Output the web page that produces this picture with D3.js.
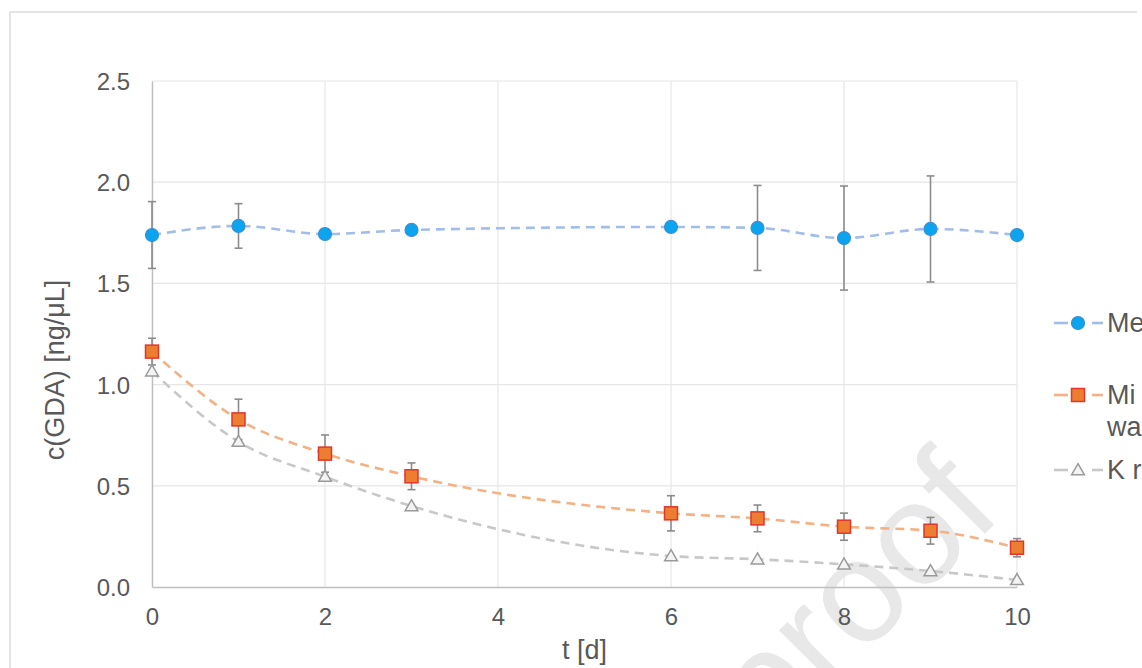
<!DOCTYPE html>
<html>
<head>
<meta charset="utf-8">
<script src="https://cdn.jsdelivr.net/npm/d3@7/dist/d3.min.js"></script>
<style>
  html, body { margin: 0; padding: 0; background: #fff; overflow: hidden; }
  svg { display: block; font-family: "Liberation Sans", Arial, Helvetica, sans-serif; }
</style>
</head>
<body>
<svg id="chart" width="1142" height="668"></svg>
<script>
// ---- data ----
const days = [0, 1, 2, 3, 6, 7, 8, 9, 10];
const medium = [1.739, 1.784, 1.744, 1.764, 1.779, 1.774, 1.724, 1.769, 1.739];
const mediumErr = [0.165, 0.11, 0, 0, 0, 0.21, 0.257, 0.262, 0];
const water = [1.163, 0.828, 0.659, 0.547, 0.364, 0.339, 0.298, 0.278, 0.194];
const waterErr = [0.066, 0.10, 0.092, 0.066, 0.087, 0.066, 0.067, 0.066, 0.045];
const kMedium = [1.066, 0.718, 0.545, 0.40, 0.153, 0.137, 0.112, 0.079, 0.035];
const xTicks = [0, 2, 4, 6, 8, 10];
const yTicks = [0, 0.5, 1.0, 1.5, 2.0, 2.5];
const legendLabels = [["Me"], ["Mi", "wa"], ["K r"]];
const xTitle = "t [d]";
const yTitle = "c(GDA) [ng/μL]";
const watermark = "proof";

const svg = d3.select("#chart");
const W = 1142, H = 668;
svg.append("rect").attr("width", W).attr("height", H).attr("fill", "#fff");

// outer frame (top & left visible)
svg.append("path").attr("d", "M10,668 L10,12 L1137,12")
  .attr("fill", "none").attr("stroke", "#dcdcdc").attr("stroke-width", 1.5);

const x = d3.scaleLinear().domain([0, 10]).range([152, 1017]);
const y = d3.scaleLinear().domain([0, 2.5]).range([587, 81]);

// watermark
svg.append("text")
  .attr("transform", "translate(860,605) rotate(-45)")
  .attr("text-anchor", "middle")
  .attr("dy", "0.26em")
  .attr("font-size", 146)
  .attr("fill", "#e8e8e8")
  .text(watermark);

// grid
const grid = svg.append("g");
grid.selectAll("line.h").data(yTicks.filter(d => d > 0)).join("line")
  .attr("x1", x(0)).attr("x2", x(10))
  .attr("y1", d => y(d)).attr("y2", d => y(d))
  .attr("stroke", "#e6e6e6").attr("stroke-width", 1.2);
grid.selectAll("line.v").data(xTicks.filter(d => d > 0)).join("line")
  .attr("y1", y(0)).attr("y2", y(2.5))
  .attr("x1", d => x(d)).attr("x2", d => x(d))
  .attr("stroke", "#e6e6e6").attr("stroke-width", 1.2);

// axes
const gx = svg.append("g").attr("transform", `translate(0,${y(0)})`)
  .call(d3.axisBottom(x).tickValues(xTicks).tickSize(0).tickPadding(0).tickFormat(d3.format("d")));
gx.select(".domain").attr("stroke", "#bfbfbf").attr("stroke-width", 1.5);
gx.selectAll("text").attr("font-size", 24).attr("fill", "#595959")
  .attr("y", 30).attr("dy", "0.35em").attr("font-family", "Liberation Sans, Arial, sans-serif");

const gy = svg.append("g").attr("transform", `translate(${x(0)},0)`)
  .call(d3.axisLeft(y).tickValues(yTicks).tickSize(0).tickPadding(0).tickFormat(d3.format(".1f")));
gy.select(".domain").attr("stroke", "#bfbfbf").attr("stroke-width", 1.5);
gy.selectAll("text").attr("font-size", 24).attr("fill", "#595959")
  .attr("x", -22).attr("dy", "0.35em").attr("font-family", "Liberation Sans, Arial, sans-serif");

// axis titles
svg.append("text").attr("x", (x(0) + x(10)) / 2).attr("y", 650)
  .attr("text-anchor", "middle").attr("dy", "0.35em")
  .attr("font-size", 27).attr("fill", "#595959").text(xTitle);
svg.append("text").attr("transform", `translate(55,370) rotate(-90)`)
  .attr("text-anchor", "middle").attr("dy", "0.35em")
  .attr("font-size", 27).attr("fill", "#595959").text(yTitle);

// lines
const mk = vals => days.map((d, i) => [d, vals[i]]);
const line = d3.line().x(d => x(d[0])).y(d => y(d[1])).curve(d3.curveMonotoneX);
const series = [
  { vals: medium, err: mediumErr, line: "#a3bde9" },
  { vals: water, err: waterErr, line: "#f4b183" },
  { vals: kMedium, err: null, line: "#c8c8c8" }
];
series.forEach(s => {
  svg.append("path").datum(mk(s.vals)).attr("d", line)
    .attr("fill", "none").attr("stroke", s.line).attr("stroke-width", 2.6)
    .attr("stroke-dasharray", "9,6");
});

// error bars
function errBars(vals, errs) {
  const g = svg.append("g").attr("stroke", "#8c8c8c").attr("stroke-width", 1.6);
  const data = days.map((d, i) => ({ d, v: vals[i], e: errs[i] })).filter(o => o.e > 0);
  g.selectAll("line.s").data(data).join("line")
    .attr("x1", o => x(o.d)).attr("x2", o => x(o.d))
    .attr("y1", o => y(o.v + o.e)).attr("y2", o => y(o.v - o.e));
  g.selectAll("line.t").data(data).join("line")
    .attr("x1", o => x(o.d) - 4).attr("x2", o => x(o.d) + 4)
    .attr("y1", o => y(o.v + o.e)).attr("y2", o => y(o.v + o.e));
  g.selectAll("line.b").data(data).join("line")
    .attr("x1", o => x(o.d) - 4).attr("x2", o => x(o.d) + 4)
    .attr("y1", o => y(o.v - o.e)).attr("y2", o => y(o.v - o.e));
}

// markers
function circles(g, pts) {
  g.selectAll("circle").data(pts).join("circle")
    .attr("cx", p => p[0]).attr("cy", p => p[1]).attr("r", 6.5)
    .attr("fill", "#0aa5ee").attr("stroke", "#3a8fd9").attr("stroke-width", 1.2);
}
function squares(g, pts) {
  g.selectAll("rect").data(pts).join("rect")
    .attr("x", p => p[0] - 6.5).attr("y", p => p[1] - 6.5).attr("width", 13).attr("height", 13)
    .attr("fill", "#ed7d31").attr("stroke", "#e2352b").attr("stroke-width", 1.5);
}
const tri = d3.symbol().type(d3.symbolTriangle).size(70);
function triangles(g, pts) {
  g.selectAll("path").data(pts).join("path")
    .attr("transform", p => `translate(${p[0]},${p[1] + 1})`).attr("d", tri)
    .attr("fill", "#f4f4f4").attr("stroke", "#9a9a9a").attr("stroke-width", 1.5);
}

errBars(medium, mediumErr);
circles(svg.append("g"), mk(medium).map(d => [x(d[0]), y(d[1])]));
errBars(water, waterErr);
squares(svg.append("g"), mk(water).map(d => [x(d[0]), y(d[1])]));
triangles(svg.append("g"), mk(kMedium).map(d => [x(d[0]), y(d[1])]));

// legend (cut off at right edge, as in the reference)
const legRows = [
  { y: 323, color: "#a3bde9", draw: circles },
  { y: 395, color: "#f4b183", draw: squares },
  { y: 470, color: "#c8c8c8", draw: triangles }
];
legRows.forEach((r, i) => {
  const g = svg.append("g");
  g.append("line").attr("x1", 1054).attr("x2", 1068).attr("y1", r.y).attr("y2", r.y)
    .attr("stroke", r.color).attr("stroke-width", 2.6);
  g.append("line").attr("x1", 1092).attr("x2", 1103).attr("y1", r.y).attr("y2", r.y)
    .attr("stroke", r.color).attr("stroke-width", 2.6);
  r.draw(g, [[1078, r.y]]);
  const t = g.append("text").attr("x", 1107).attr("y", r.y)
    .attr("font-size", 27).attr("fill", "#595959");
  legendLabels[i].forEach((s, k) => {
    t.append("tspan").attr("x", 1107).attr("dy", k === 0 ? "0.35em" : "1.18em").text(s);
  });
});
</script>
</body>
</html>
